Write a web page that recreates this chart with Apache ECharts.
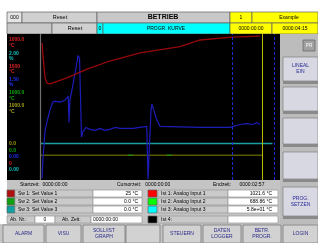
<!DOCTYPE html>
<html><head><meta charset="utf-8">
<script src="https://cdn.jsdelivr.net/npm/echarts@6/dist/echarts.min.js"></script>
<style>html,body{margin:0;padding:0;background:#fff}#c{width:318px;height:243px}</style>
</head><body><div id="c"></div>
<script>
// ---- data (time in s, 0..255 = 0000:00:00..0000:04:15) ----
const redTime  = [1.1, 2.1, 3.2, 4.3, 6.4, 9.6, 14.9, 27.7, 49.1, 73.6, 105.6, 148.3, 169.7, 203.8, 233.7];
const redTemp  = [938, 856, 774, 699, 664, 658, 671, 699, 760, 815, 870, 914, 959, 979, 986];
const blueTime = [1.1, 2.1, 4.3, 7.5, 9.6, 12.5, 14.9, 20.3, 25.6, 27.7, 29.1, 29.9, 30.9, 34.1, 37.3, 39.5, 41.1, 42.1, 43.2, 44.8, 48.0, 52.3, 57.6, 63.0, 68.0, 73.6, 79.0, 84.3, 98.2, 112.8, 114.2, 116.3, 117.4, 118.4, 122.7, 127.0, 169.7, 201.7, 212.4, 219.5, 226.2, 230.1, 233.7];
const blueVals = [0.02, 0.21, 0.51, 0.64, 0.72, 0.80, 0.81, 0.80, 0.82, 0.83, 0.86, 0.59, 0.82, 0.98, 1.15, 1.28, 1.25, 0.87, 0.44, 0.50, 0.54, 0.52, 0.51, 0.53, 0.51, 0.52, 0.54, 0.53, 0.53, 0.55, 0.01, 0.01, 0.72, 0.78, 0.64, 0.55, 0.54, 0.54, 0.57, 0.58, 0.57, 0.59, 0.57];
const cyanTime = [0, 247];
const cyanVals = [0.5, 0.5];
const oliveTime = [0, 236];
const oliveVals = [170, 170];
const greenTime = [93, 98, 116, 134, 140];
const greenVals = [170, 170, null, 170, 170];
const dashedMarks = [204, 249];
const yellowMarks = [236];

const axisTopLabels = [['1000.0','°C','#d82020'],['2.00','%','#10c0c0'],['1000','°C','#d82020'],['1.50','%','#2030f0'],['1000.0','°C','#10a810'],['1000.0','°C','#a0a010']];
const axisBottomLabels = [['0.0','#a0a010'],['0.0','#10a810'],['0.00','#2030f0'],['0','#d82020'],['0.00','#10c0c0']];

const setLabels = ['Sw 1: Set Value 1','Sw 2: Set Value 2','Sw 3: Set Value 3'];
const setValues = ['25 °C','0.0 °C','0.0 °C'];
const setColors = ['#b01010','#10a010','#10a0a0'];
const actLabels = ['Ist 1: Analog Input 1','Ist 2: Analog Input 2','Ist 3: Analog Input 3','Ist 4:'];
const actValues = ['1021.6 °C','688.86 °C','5.8e+01 °C',''];
const actColors = ['#ff0000','#00ff00','#00ffff','#000000'];
const bottomButtons = ['ALARM','VISU','SOLL/IST\nGRAPH','','STEUERN','DATEN\nLOGGER','BETR.\nPROGR.','LOGIN'];
const sideButtons = ['LINEAL\nEIN','','','','PROG.\nSETZEN'];

function zip(a,b){return a.map((t,i)=>[t,b[i]]);}
const FF='"Liberation Sans", Arial, sans-serif';
const G=[];
function R(x,y,w,h,fill,stroke,z){G.push({type:'rect',z:z||1,shape:{x:x,y:y,width:w,height:h},style:{fill:fill,stroke:stroke||null,lineWidth:stroke?0.7:0}});}
function T(x,y,s,o){o=o||{};G.push({type:'text',z:o.z||5,x:x,y:y,style:{text:s,fill:o.c||'#000',fontSize:o.fs||5,fontWeight:o.fw||'normal',fontFamily:FF,align:o.a||'left',verticalAlign:'middle',lineHeight:o.lh||6}});}
function L(x1,y1,x2,y2,c,w){G.push({type:'line',z:3,shape:{x1:x1,y1:y1,x2:x2,y2:y2},style:{stroke:c,lineWidth:w||1}});}

// header row 1
R(7,12,15,11,'#e4e4e4','#606060'); T(14.5,17.5,'000',{a:'center'});
R(22,12,75,11,'#d0d0d0','#606060'); T(60,17.5,'Reset',{a:'center',fs:5.5});
R(97,12,133,11,'#c8c8c8','#606060'); T(163,17.5,'BETRIEB',{a:'center',fs:7,fw:'bold'});
R(230,12,22,11,'#ffff00','#606060'); T(241,17.5,'1',{a:'center'});
R(252,12,66,11,'#ffff00','#606060'); T(289,17.5,'Example',{a:'center'});
// header row 2
R(7,23,45,11,'#c8c8c8','#606060');
R(52,23,45,11,'#d0d0d0','#606060'); T(75,28.5,'Reset',{a:'center',fs:5.5});
R(97,23,6,11,'#00ffff','#606060'); T(100,28.5,'0',{a:'center'});
R(103,23,127,11,'#00ffff','#606060'); T(166,28.5,'PROGR. KURVE',{a:'center'});
R(230,23,42,11,'#ffff00','#606060'); T(251,28.5,'0000:00:00',{a:'center'});
R(272,23,46,11,'#ffff00','#606060'); T(295,28.5,'0000:04:15',{a:'center'});

// chart background
R(7,34,273,146,'#000',null,0);
L(40.5,34,40.5,180,'#707070',1.2);
axisTopLabels.forEach((l,i)=>{const y=40+i*13.2; T(9,y,l[0],{c:l[2],fs:5,fw:'bold'}); T(9,y+5.5,l[1],{c:l[2],fs:5,fw:'bold'});});
axisBottomLabels.forEach((l,i)=>{T(9,144+i*6.5,l[0],{c:l[1],fs:5,fw:'bold'});});

// right panel
R(280,34,38,191,'#bcbcbc');
R(303,40,12,11,'#a0a0a0','#606060'); T(309,45.5,'PR',{a:'center',c:'#fff',fs:4.5});
const sbY=[57,87,118,152,187], sbH=[24,24,26,27,29];
sideButtons.forEach((s,i)=>{R(283,sbY[i],35,sbH[i],'#d8d8e2','#808080'); R(283,sbY[i]+sbH[i],35,3,'#8a8a8a'); if(s) T(300.5,sbY[i]+sbH[i]/2,s,{a:'center',c:'#2a2a9a',fs:5});});

// below chart
R(7,180,273,45,'#c4c4c4');
T(20,185,'Startzeit:  0000:00:00');
T(117,185,'Cursorzeit:   0000:00:00');
T(213,185,'Endzeit:      0000:02:57');
[190,198,206].forEach((y,i)=>{
  R(7,y,8,7,setColors[i],'#606060'); R(15,y,78,7,'#cacaca','#9a9a9a'); T(18,y+3.5,setLabels[i]);
  R(93,y,49,7,'#fff','#9a9a9a'); T(138,y+3.5,setValues[i],{a:'right'});
});
[190,198,206,216].forEach((y,i)=>{
  R(148,y,9,7,actColors[i],'#606060'); R(158,y,70,7,'#cacaca','#9a9a9a'); T(161,y+3.5,actLabels[i]);
  R(228,y,50,7,'#fff','#9a9a9a'); T(272,y+3.5,actValues[i],{a:'right'});
});
R(7,216,28,7,'#cacaca','#9a9a9a'); T(10,219.5,'Ab. Nr.:');
R(35,216,20,7,'#fff','#9a9a9a'); T(45,219.5,'0',{a:'center'});
R(55,216,36,7,'#cacaca','#9a9a9a'); T(62,219.5,'Ab. Zeit:');
R(91,216,51,7,'#fff','#9a9a9a'); T(93,219.5,'0000:00:00');

// bottom buttons
R(0,224,318,19,'#c4c4c4');
const bx=[3,46,83,126,163,203,243,283], bw=[41,35,42,34,38,38,38,35];
bottomButtons.forEach((s,i)=>{R(bx[i],225,bw[i],18,'#d2d2d2','#707070'); if(s) T(bx[i]+bw[i]/2,234,s,{a:'center',c:'#2a2a8a',fs:5});});

const chart = echarts.init(document.getElementById('c'),null,{renderer:'canvas'});
const ax=(min,max)=>({type:'value',min:min,max:max,show:false,gridIndex:0});
chart.setOption({
  animation:false,
  grid:{left:41,top:34,width:239,height:146,show:false},
  xAxis:{type:'value',min:0,max:255,show:false},
  yAxis:[ax(0,1000),ax(0,2),ax(0,1.5),ax(0,1000),ax(0,1000)],
  graphic:{elements:G},
  series:[
    {type:'line',yAxisIndex:1,data:zip(cyanTime,cyanVals),symbol:'none',lineStyle:{color:'#18a0a0',width:1.6},z:3,
     markLine:{symbol:'none',silent:true,label:{show:false},animation:false,
       data:dashedMarks.map(t=>({xAxis:t,lineStyle:{color:'#1a28d0',type:[3,2],width:1}})).concat(yellowMarks.map(t=>({xAxis:t,lineStyle:{color:'#b8b800',type:'solid',width:1}})))}},
    {type:'line',yAxisIndex:3,data:zip(greenTime,greenVals),symbol:'none',lineStyle:{color:'#10a010',width:1},z:3},
    {type:'line',yAxisIndex:4,data:zip(oliveTime,oliveVals),symbol:'none',lineStyle:{color:'#848400',width:1},z:2},
    {type:'line',yAxisIndex:2,data:zip(blueTime,blueVals),symbol:'none',lineStyle:{color:'#1c1cb8',width:1.2},z:4},
    {type:'line',yAxisIndex:0,data:zip(redTime,redTemp),symbol:'none',lineStyle:{color:'#980808',width:1.3},z:4}
  ]
});
</script></body></html>
